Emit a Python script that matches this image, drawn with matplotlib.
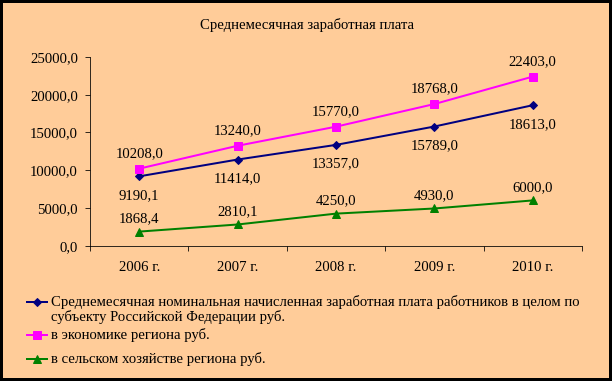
import numpy as np
import matplotlib
matplotlib.use('Agg')
import matplotlib.pyplot as plt
from matplotlib.lines import Line2D
from matplotlib.patches import Rectangle

# data
years = ['2006 г.', '2007 г.', '2008 г.', '2009 г.', '2010 г.']
total = [9190.1, 11414.0, 13357.0, 15789.0, 18613.0]
economy = [10208.0, 13240.0, 15770.0, 18768.0, 22403.0]
agro = [1868.4, 2810.1, 4250.0, 4930.0, 6000.0]
yticks = [0, 5000, 10000, 15000, 20000, 25000]

title = 'Среднемесячная заработная плата'
names = ['Среднемесячная номинальная начисленная заработная плата работников в целом по\nсубъекту Российской Федерации руб.',
         'в экономике региона руб.',
         'в сельском хозяйстве региона руб.']

def fmt(v):
    return ('%.1f' % v).replace('.', ',')

plt.rcParams['font.family'] = ['Liberation Serif', 'DejaVu Serif']
FS = 14.8

W, H = 612, 381
fig = plt.figure(figsize=(W / 72, H / 72), dpi=72)
fig.patch.set_facecolor('black')
fig.add_artist(Rectangle((3 / W, 3 / H), 606 / W, 375 / H, transform=fig.transFigure,
                         facecolor='#FFCC99', edgecolor='none', zorder=0))

fig.text(307 / W, 1 - 25 / H, title, ha='center', va='center', fontsize=FS)

ax = fig.add_axes([90 / W, 1 - 245.7 / H, 492 / W, (245.7 - 57) / H])
ax.set_facecolor('none')
x = np.arange(len(years))
ax.set_xlim(-0.5, len(years) - 0.5)
ax.set_ylim(0, 25000)

series = [(total, '#000080', 'D', 6, -19),
          (economy, '#FF00FF', 's', 8, 15),
          (agro, '#008000', '^', 8, 13)]
for vals, col, mk, ms, off in series:
    ax.plot(x, vals, color=col, lw=2, marker=mk, ms=ms, mec=col, mfc=col)
    for xi, v in zip(x, vals):
        ax.annotate(fmt(v), (xi, v), xytext=(0, off), textcoords='offset points',
                    ha='center', va='center', fontsize=FS)

ax.set_yticks(yticks)
ax.set_yticklabels([fmt(v) for v in yticks], fontsize=FS)
ax.set_xticks(np.arange(len(years) + 1) - 0.5)
ax.set_xticklabels([])
ax.set_xticks(x, minor=True)
ax.set_xticklabels(years, minor=True, fontsize=FS)
ax.tick_params(axis='x', which='minor', length=0, pad=15)
ax.tick_params(axis='x', which='major', length=5, direction='out')
ax.tick_params(axis='y', length=5, direction='out', pad=7)
for s in ['top', 'right']:
    ax.spines[s].set_visible(False)

# legend
legend_y = [302, 335, 359]
for (vals, col, mk, ms, off), name, ly in zip(series, names, legend_y):
    yy = 1 - ly / H
    fig.add_artist(Line2D([27 / W, 47 / W], [yy, yy], transform=fig.transFigure,
                          color=col, lw=2))
    fig.add_artist(Line2D([37 / W], [yy], transform=fig.transFigure,
                          color=col, marker=mk, ms=ms, mec=col, mfc=col, linestyle='none'))
    if '\n' in name:
        fig.text(51 / W, 1 - (ly - 7) / H, name, ha='left', va='top', fontsize=FS,
                 linespacing=1.12)
    else:
        fig.text(51 / W, yy, name, ha='left', va='center', fontsize=FS)

fig.savefig('out.png', dpi=72, facecolor=fig.get_facecolor())
